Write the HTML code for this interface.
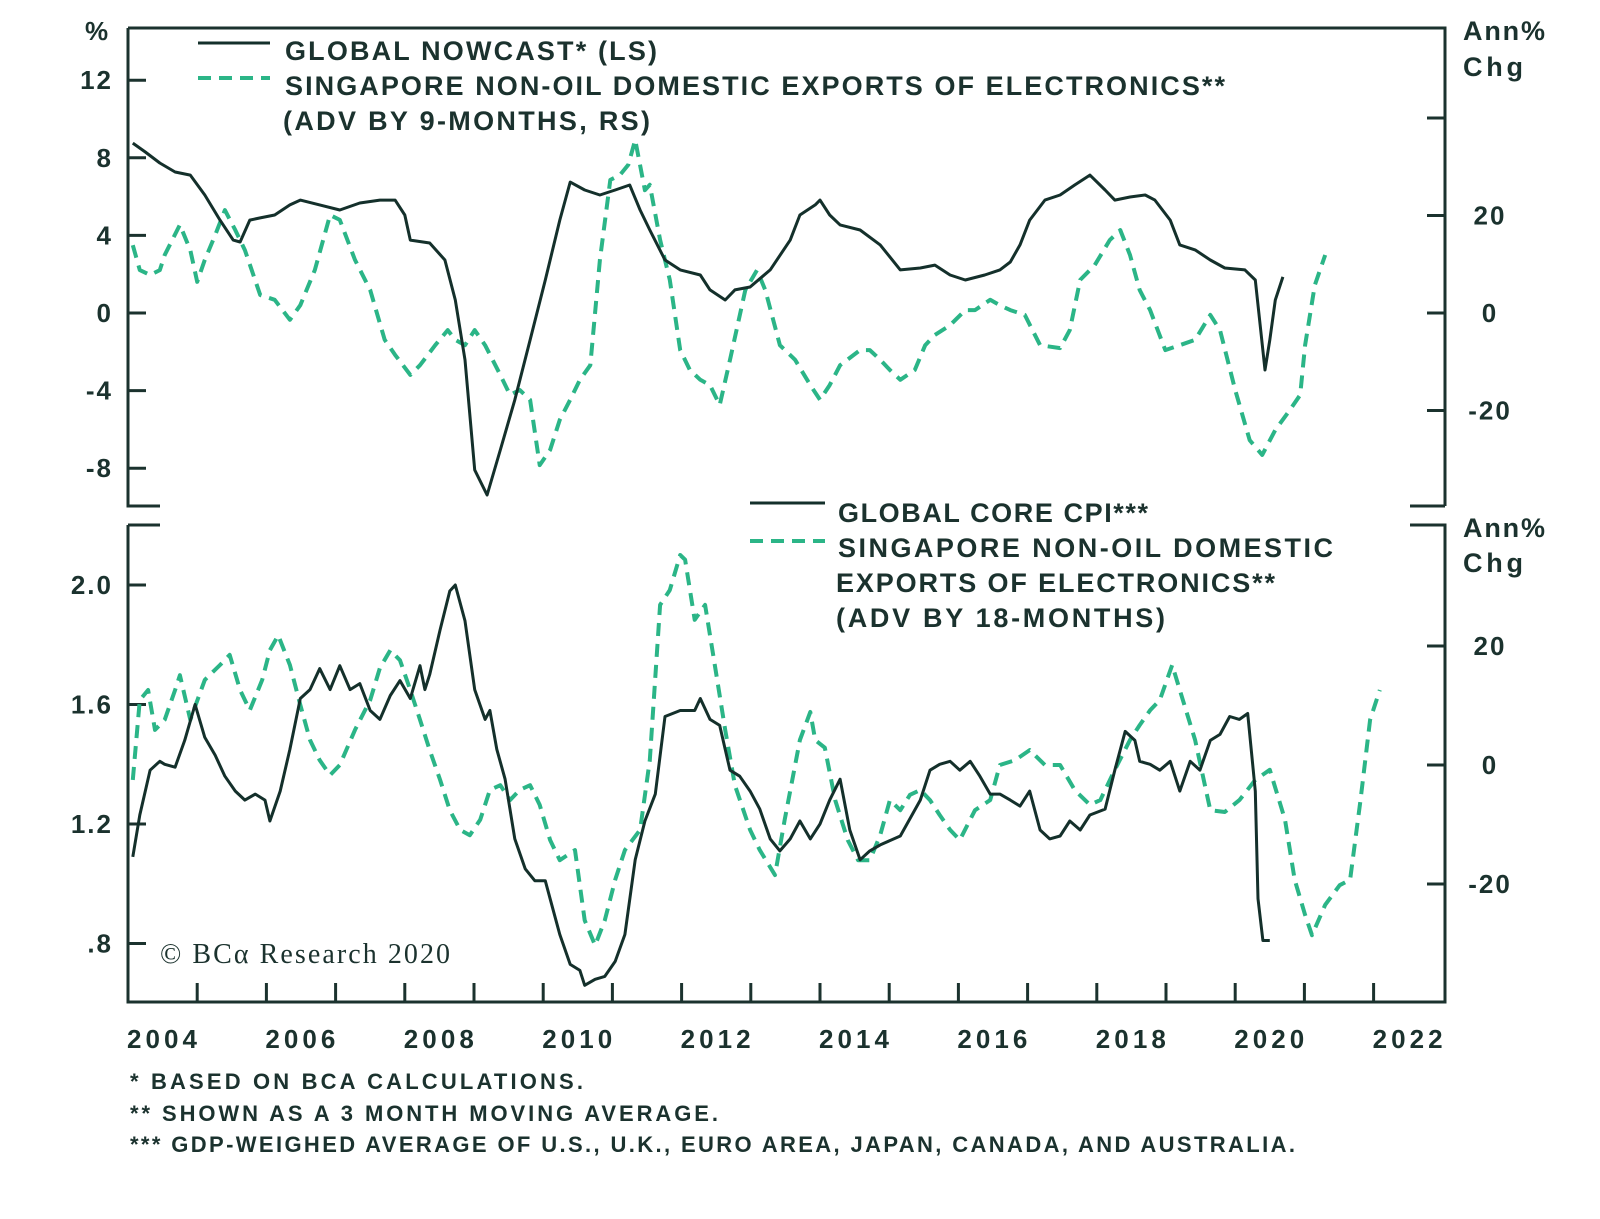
<!DOCTYPE html>
<html><head><meta charset="utf-8"><style>
html,body{margin:0;padding:0;background:#fff;}
svg text{font-family:"Liberation Sans",sans-serif;fill:#1b322e;font-weight:bold;}
</style></head><body>
<svg id="c" width="1600" height="1214" viewBox="0 0 1600 1214" xmlns="http://www.w3.org/2000/svg">
<rect width="1600" height="1214" fill="#fff"/>
<g id="frame" stroke="#1b322e" stroke-width="3" fill="none">
<path d="M128 28 H1445 V506 M128 28 V506 H160 M1410 506 H1445"/>
<path d="M128 525 V1002 H1445 V525 H1410 M128 525 H160"/>
</g>
<g id="ticks" stroke="#1b322e" stroke-width="3"></g>
<g id="labels" font-size="26" letter-spacing="2"></g>
<g id="series"></g>
<text x="85" y="40" font-size="26">%</text>
<text x="1463" y="40" font-size="27" textLength="82">Ann%</text>
<text x="1463" y="76" font-size="27" textLength="60">Chg</text>
<text x="1463" y="537" font-size="27" textLength="82">Ann%</text>
<text x="1463" y="572" font-size="27" textLength="60">Chg</text>
<g font-size="27">
<line x1="198" y1="43" x2="270" y2="43" stroke="#14302b" stroke-width="3"/>
<text x="285" y="60" textLength="372">GLOBAL NOWCAST* (LS)</text>
<line x1="198" y1="78" x2="270" y2="78" stroke="#2bb587" stroke-width="4" stroke-dasharray="13,8"/>
<text x="285" y="95" textLength="940">SINGAPORE NON-OIL DOMESTIC EXPORTS OF ELECTRONICS**</text>
<text x="283" y="130" textLength="367">(ADV BY 9-MONTHS, RS)</text>
</g>
<g font-size="27">
<line x1="750" y1="503" x2="825" y2="503" stroke="#14302b" stroke-width="3"/>
<text x="838" y="522" textLength="310">GLOBAL CORE CPI***</text>
<line x1="750" y1="541" x2="825" y2="541" stroke="#2bb587" stroke-width="4" stroke-dasharray="13,8"/>
<text x="838" y="557" textLength="495">SINGAPORE NON-OIL DOMESTIC</text>
<text x="836" y="592" textLength="439">EXPORTS OF ELECTRONICS**</text>
<text x="836" y="627" textLength="329">(ADV BY 18-MONTHS)</text>
</g>
<text x="160" y="963" font-size="28" textLength="290" style="font-family:'Liberation Serif',serif;font-weight:normal">© BCα Research 2020</text>
<g font-size="22">
<text x="130" y="1089" textLength="453">*   BASED ON BCA CALCULATIONS.</text>
<text x="130" y="1121" textLength="588">** SHOWN AS A 3 MONTH MOVING AVERAGE.</text>
<text x="130" y="1152" textLength="1165">*** GDP-WEIGHED AVERAGE OF U.S., U.K., EURO AREA, JAPAN, CANADA, AND AUSTRALIA.</text>
</g>
</svg>
<script>
const xTickYears=[2005,2006,2007,2008,2009,2010,2011,2012,2013,2014,2015,2016,2017,2018,2019,2020,2021,2022];
const xLabels=[2004,2006,2008,2010,2012,2014,2016,2018,2020,2022];
const topLeftTicks=[12,8,4,0,-4,-8];
const topRightTicks=[40,20,0,-20];
const botLeftTicks=[2.0,1.6,1.2,0.8];
const botLeftLabels=["2.0","1.6","1.2",".8"];
const botRightTicks=[20,0,-20];

const nowT=[2004.07,2004.25,2004.46,2004.68,2004.90,2005.11,2005.33,2005.52,2005.62,2005.76,2005.91,2006.12,2006.34,2006.49,2006.77,2007.06,2007.35,2007.64,2007.86,2008.00,2008.08,2008.36,2008.58,2008.73,2008.87,2009.01,2009.19,2009.38,2009.59,2009.81,2010.03,2010.24,2010.39,2010.60,2010.82,2011.04,2011.25,2011.40,2011.54,2011.76,2011.98,2012.27,2012.41,2012.63,2012.77,2012.99,2013.28,2013.57,2013.71,2013.93,2014.00,2014.14,2014.29,2014.58,2014.87,2015.16,2015.45,2015.66,2015.88,2016.10,2016.38,2016.60,2016.75,2016.89,2017.03,2017.25,2017.47,2017.68,2017.90,2018.12,2018.26,2018.48,2018.70,2018.84,2019.06,2019.20,2019.42,2019.64,2019.85,2020.14,2020.29,2020.43,2020.50,2020.58,2020.69];
const nowV=[8.76,8.30,7.73,7.27,7.11,6.08,4.79,3.76,3.66,4.79,4.90,5.05,5.57,5.82,5.57,5.31,5.67,5.82,5.82,5.05,3.76,3.61,2.73,0.67,-2.42,-8.09,-9.38,-7.06,-4.48,-1.39,1.70,4.79,6.75,6.34,6.08,6.34,6.60,5.31,4.28,2.73,2.22,1.96,1.19,0.67,1.19,1.34,2.22,3.76,5.05,5.57,5.82,5.05,4.54,4.28,3.51,2.22,2.32,2.47,1.96,1.70,1.96,2.22,2.63,3.51,4.79,5.82,6.08,6.60,7.11,6.34,5.82,5.98,6.08,5.82,4.79,3.51,3.25,2.73,2.32,2.22,1.70,-2.94,-1.39,0.67,1.86];

const exp9T=[2004.07,2004.17,2004.32,2004.46,2004.53,2004.75,2004.90,2005.00,2005.11,2005.26,2005.40,2005.55,2005.69,2005.91,2006.12,2006.34,2006.49,2006.70,2006.92,2007.06,2007.28,2007.50,2007.71,2007.86,2008.08,2008.22,2008.44,2008.62,2008.73,2008.87,2009.01,2009.16,2009.38,2009.52,2009.66,2009.81,2009.95,2010.10,2010.24,2010.39,2010.53,2010.68,2010.82,2010.97,2011.11,2011.23,2011.33,2011.47,2011.54,2011.69,2011.83,2011.98,2012.12,2012.27,2012.41,2012.55,2012.70,2012.92,2013.09,2013.21,2013.42,2013.64,2013.86,2014.00,2014.14,2014.29,2014.58,2014.72,2014.87,2015.01,2015.16,2015.37,2015.52,2015.66,2015.88,2016.10,2016.24,2016.46,2016.60,2016.75,2016.96,2017.18,2017.47,2017.61,2017.76,2017.97,2018.19,2018.34,2018.48,2018.62,2018.77,2018.99,2019.20,2019.42,2019.64,2019.78,2020.00,2020.21,2020.39,2020.58,2020.79,2020.94,2021.01,2021.15,2021.30];
const exp9V=[13.9,8.8,7.8,8.8,11.9,18.1,12.9,6.4,10.9,16.0,21.1,17.0,12.9,3.7,2.7,-1.4,1.6,8.8,20.1,19.1,10.9,4.7,-5.5,-8.6,-12.7,-10.7,-6.6,-3.5,-5.5,-6.6,-3.5,-6.6,-12.7,-16.8,-15.8,-17.8,-31.2,-28.1,-21.9,-17.8,-13.7,-10.7,10.9,27.3,28.3,30.4,35.5,25.2,26.3,15.0,6.8,-7.6,-11.7,-13.7,-14.8,-18.9,-9.6,4.7,8.8,4.7,-6.6,-9.6,-14.8,-17.8,-14.8,-10.7,-7.6,-7.6,-9.6,-11.7,-13.7,-11.7,-6.6,-4.5,-2.5,0.6,0.6,2.7,1.6,0.6,-0.4,-6.6,-7.2,-3.5,6.8,9.8,15.0,17.0,11.9,4.7,0.6,-7.6,-6.6,-5.5,-0.4,-3.5,-15.8,-26.1,-29.1,-24.0,-19.9,-16.8,-6.6,5.7,11.9];

const cpiT=[2004.07,2004.17,2004.32,2004.46,2004.53,2004.68,2004.82,2004.97,2005.11,2005.26,2005.40,2005.55,2005.69,2005.84,2005.98,2006.05,2006.20,2006.34,2006.49,2006.63,2006.77,2006.92,2007.06,2007.21,2007.35,2007.50,2007.64,2007.79,2007.93,2008.08,2008.22,2008.29,2008.36,2008.51,2008.65,2008.73,2008.87,2009.01,2009.16,2009.23,2009.33,2009.45,2009.59,2009.74,2009.88,2010.03,2010.10,2010.24,2010.39,2010.53,2010.60,2010.75,2010.89,2011.04,2011.18,2011.33,2011.47,2011.62,2011.76,2011.98,2012.19,2012.27,2012.41,2012.55,2012.70,2012.84,2012.99,2013.13,2013.28,2013.42,2013.57,2013.71,2013.86,2014.00,2014.14,2014.29,2014.43,2014.58,2014.72,2014.87,2015.16,2015.45,2015.59,2015.73,2015.88,2016.02,2016.17,2016.31,2016.46,2016.60,2016.75,2016.89,2017.03,2017.18,2017.32,2017.47,2017.61,2017.76,2017.90,2018.12,2018.26,2018.41,2018.55,2018.62,2018.77,2018.91,2019.06,2019.20,2019.35,2019.49,2019.64,2019.78,2019.92,2020.06,2020.18,2020.29,2020.33,2020.40,2020.50];
const cpiV=[1.09,1.23,1.38,1.41,1.40,1.39,1.48,1.60,1.49,1.43,1.36,1.31,1.28,1.30,1.28,1.21,1.31,1.45,1.62,1.65,1.72,1.65,1.73,1.65,1.67,1.58,1.55,1.63,1.68,1.62,1.73,1.65,1.70,1.85,1.98,2.00,1.88,1.65,1.55,1.58,1.45,1.35,1.15,1.05,1.01,1.01,0.95,0.83,0.73,0.71,0.66,0.68,0.69,0.74,0.83,1.08,1.21,1.30,1.56,1.58,1.58,1.62,1.55,1.53,1.38,1.36,1.31,1.25,1.15,1.11,1.15,1.21,1.15,1.20,1.28,1.35,1.18,1.08,1.11,1.13,1.16,1.28,1.38,1.40,1.41,1.38,1.41,1.36,1.30,1.30,1.28,1.26,1.31,1.18,1.15,1.16,1.21,1.18,1.23,1.25,1.38,1.51,1.48,1.41,1.40,1.38,1.41,1.31,1.41,1.38,1.48,1.50,1.56,1.55,1.57,1.31,0.95,0.81,0.81];

const exp18T=[2004.07,2004.17,2004.29,2004.39,2004.53,2004.68,2004.75,2004.90,2005.11,2005.33,2005.47,2005.62,2005.76,2005.94,2006.05,2006.17,2006.34,2006.49,2006.63,2006.77,2006.92,2007.06,2007.28,2007.50,2007.64,2007.79,2007.93,2008.08,2008.22,2008.36,2008.51,2008.65,2008.80,2008.94,2009.09,2009.23,2009.38,2009.52,2009.66,2009.81,2009.95,2010.10,2010.24,2010.46,2010.60,2010.75,2010.89,2011.04,2011.18,2011.40,2011.54,2011.69,2011.83,2011.98,2012.05,2012.19,2012.34,2012.48,2012.63,2012.77,2012.99,2013.13,2013.35,2013.49,2013.71,2013.86,2013.93,2014.07,2014.22,2014.40,2014.55,2014.72,2014.87,2015.01,2015.16,2015.30,2015.45,2015.59,2015.73,2015.88,2016.02,2016.24,2016.46,2016.60,2016.82,2017.03,2017.25,2017.47,2017.68,2017.90,2018.05,2018.26,2018.48,2018.62,2018.77,2018.91,2019.09,2019.20,2019.42,2019.64,2019.85,2020.06,2020.29,2020.50,2020.72,2020.86,2021.01,2021.11,2021.30,2021.51,2021.66,2021.81,2021.95,2022.09];
const exp18V=[-2.5,10.9,12.6,5.9,7.6,12.6,15.1,7.6,14.3,16.8,18.5,12.6,9.2,14.3,19.3,21.8,16.8,10.1,4.2,0.8,-1.7,0,5.9,10.9,16.3,19.3,17.6,12.6,7.6,2.5,-2.5,-7.6,-10.9,-11.8,-9.2,-4.2,-3.4,-5.9,-4.2,-3.4,-6.7,-12.6,-16.0,-14.3,-26.1,-30.3,-26.1,-19.3,-14.3,-10.9,0.8,26.9,29.4,35.3,34.5,24.4,26.9,16.8,5.9,-3.4,-10.9,-14.3,-18.5,-9.2,4.2,8.9,4.2,2.9,-5.9,-12.6,-16.0,-16.0,-11.8,-5.9,-7.6,-5.0,-4.2,-5.9,-8.4,-10.9,-12.6,-7.6,-5.9,0,0.8,2.5,0,0,-4.2,-6.7,-5.9,-0.8,4.2,6.7,9.2,10.9,16.8,12.6,4.2,-7.6,-7.9,-5.9,-2.5,-0.8,-9.2,-19.3,-25.2,-28.6,-23.5,-20.2,-19.3,-5.9,7.6,12.6];

const NS='http://www.w3.org/2000/svg';
const X=t=>128+(t-2004)*69.2;
const yTL=v=>313-v*19.4, yTR=v=>313-v*4.875;
const yBL=v=>585+(2.0-v)*298.75, yBR=v=>765-v*5.95;
function mk(tag,attrs,parent){const e=document.createElementNS(NS,tag);for(const k in attrs)e.setAttribute(k,attrs[k]);parent.appendChild(e);return e;}
const ticks=document.getElementById('ticks'),labels=document.getElementById('labels'),series=document.getElementById('series');
xTickYears.forEach(y=>{const l=mk('line',{x1:X(y),x2:X(y),y1:983,y2:1002},ticks);

});
xLabels.forEach(y=>{const t=mk('text',{x:X(y)-1,y:1048,textLength:72},labels);t.textContent=y;

});
topLeftTicks.forEach(v=>{const l=mk('line',{x1:128,x2:146,y1:yTL(v),y2:yTL(v)},ticks);


const t=mk('text',{x:113,y:yTL(v)+9,'text-anchor':'end'},labels);t.textContent=v;

});
topRightTicks.forEach(v=>{const l=mk('line',{x1:1427,x2:1445,y1:yTR(v),y2:yTR(v)},ticks);


if(v!==40){const t=mk('text',{x:1490,y:yTR(v)+9,'text-anchor':'middle'},labels);t.textContent=v;

}});
botLeftTicks.forEach((v,i)=>{const l=mk('line',{x1:128,x2:146,y1:yBL(v),y2:yBL(v)},ticks);


const t=mk('text',{x:113,y:yBL(v)+9,'text-anchor':'end'},labels);t.textContent=botLeftLabels[i];

});
botRightTicks.forEach(v=>{const l=mk('line',{x1:1427,x2:1445,y1:yBR(v),y2:yBR(v)},ticks);


const t=mk('text',{x:1490,y:yBR(v)+9,'text-anchor':'middle'},labels);t.textContent=v;

});
function line(T,V,fy,dashed,name){const d=T.map((t,i)=>(i?'L':'M')+X(t).toFixed(1)+' '+fy(V[i]).toFixed(1)).join(' ');
const p=mk('path',{d:d,fill:'none',stroke:dashed?'#2bb587':'#14302b','stroke-width':dashed?4:3,'stroke-linejoin':'round'},series);
if(dashed)p.setAttribute('stroke-dasharray','13,8');

}
line(exp9T,exp9V,yTR,true,'exports-9m-line');
line(nowT,nowV,yTL,false,'nowcast-line');
line(exp18T,exp18V,yBR,true,'exports-18m-line');
line(cpiT,cpiV,yBL,false,'core-cpi-line');
</script>
</body></html>
